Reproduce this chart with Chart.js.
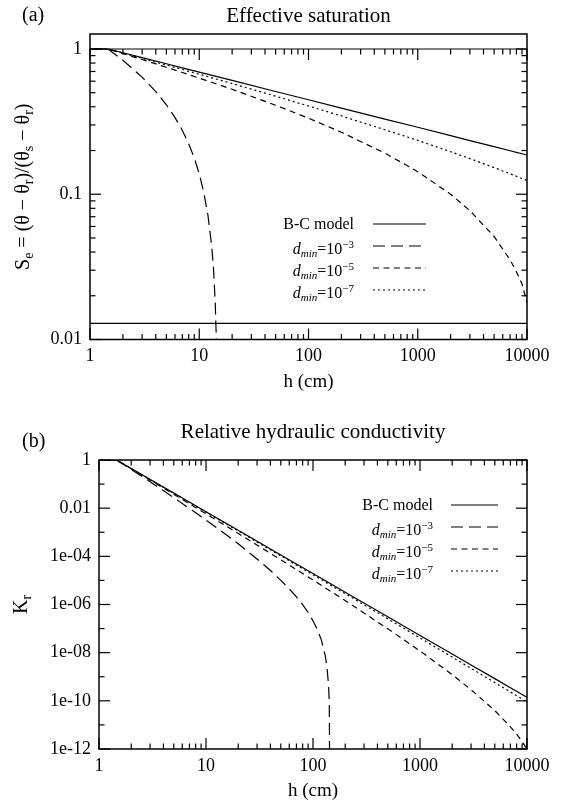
<!DOCTYPE html>
<html>
<head>
<meta charset="utf-8">
<script src="https://cdn.jsdelivr.net/npm/chart.js@4/dist/chart.umd.min.js"></script>
<style>
  html, body { margin: 0; background: #fff; }
  #wrap { position: relative; width: 565px; height: 807px; }
  canvas { position: absolute; left: 0; top: 0; }
</style>
</head>
<body>
<div id="wrap">
  <canvas id="se" width="565" height="807"></canvas>
  <canvas id="kr" width="565" height="807"></canvas>
</div>
<script>
// (a) effective saturation
const hTop = [1, 1.46, 2, 3, 5, 7, 10, 20, 50, 100, 200, 500, 1000, 2000, 3000, 5000, 7000, 8000, 9000, 10000];
const seBC = [1, 1, 0.942, 0.872, 0.791, 0.742, 0.693, 0.608, 0.510, 0.447, 0.392, 0.329, 0.289, 0.253, 0.234, 0.2125, 0.1993, 0.1943, 0.190, 0.1862];
const seD5 = [1, 1, 0.930, 0.846, 0.748, 0.689, 0.630, 0.528, 0.410, 0.334, 0.267, 0.192, 0.143, 0.100, 0.0771, 0.0512, 0.0353, 0.0293, 0.0241, 0.0180];
const seD7 = [1, 1, 0.938, 0.862, 0.775, 0.722, 0.670, 0.578, 0.473, 0.405, 0.346, 0.278, 0.235, 0.196, 0.176, 0.1525, 0.1383, 0.1329, 0.1283, 0.1242];
const hSeD3 = [1, 1.46, 2, 3, 4, 5, 6, 7, 8, 9, 10, 11, 12, 13, 13.5, 14, 14.3, 14.5, 14.7];
const seD3 = [1, 1, 0.837, 0.640, 0.509, 0.413, 0.337, 0.275, 0.223, 0.178, 0.138, 0.103, 0.072, 0.044, 0.031, 0.018, 0.0107, 0.0056, 0.001];

// (b) relative hydraulic conductivity
const hKr = [1, 1.46, 2, 5, 10, 20, 50, 100, 200, 500, 1000, 2000, 3000, 5000, 7000, 8000, 9000, 10000];
const krBC = [1, 1, 0.445, 0.0423, 7.13e-3, 1.20e-3, 1.14e-4, 1.93e-5, 3.25e-6, 3.09e-7, 5.21e-8, 8.79e-9, 3.10e-9, 8.36e-10, 3.52e-10, 2.50e-10, 1.85e-10, 1.41e-10];
const krD5 = [1, 1, 0.433, 0.0376, 5.83e-3, 8.91e-4, 7.19e-5, 1.04e-5, 1.45e-6, 9.82e-8, 1.18e-8, 1.22e-9, 2.90e-10, 3.94e-11, 8.36e-12, 4.10e-12, 2.03e-12, 9.9e-13];
const krD7 = [1, 1, 0.442, 0.0412, 6.84e-3, 1.13e-3, 1.04e-4, 1.71e-5, 2.80e-6, 2.54e-7, 4.09e-8, 6.55e-9, 2.23e-9, 5.74e-10, 2.34e-10, 1.63e-10, 1.19e-10, 8.97e-11];
const hKrD3 = [1, 1.46, 2, 3, 5, 7, 10, 15, 20, 30, 40, 50, 60, 70, 80, 90, 100, 110, 120, 130, 135, 140, 142, 143.5];
const krD3 = [1, 1, 0.405, 0.125, 0.0273, 9.82e-3, 3.22e-3, 8.71e-4, 3.31e-4, 7.80e-5, 2.57e-5, 1.01e-5, 4.47e-6, 2.06e-6, 9.80e-7, 4.65e-7, 2.12e-7, 8.97e-8, 3.24e-8, 7.80e-9, 2.59e-9, 4.08e-10, 7.1e-11, 1e-14];

const xTicks = [1, 10, 100, 1000, 10000];
const xTickLabels = ['1', '10', '100', '1000', '10000'];
const seTicks = [0.01, 0.1, 1];
const seTickLabels = ['0.01', '0.1', '1'];
const seGuides = [1, 0.0129];
const krTicks = [1, 1e-2, 1e-4, 1e-6, 1e-8, 1e-10, 1e-12];
const krTickLabels = ['1', '0.01', '1e-04', '1e-06', '1e-08', '1e-10', '1e-12'];
const krMinor = [1e-1, 1e-3, 1e-5, 1e-7, 1e-9, 1e-11];
const seriesNames = ['B-C model', 'd_min=10^-3', 'd_min=10^-5', 'd_min=10^-7'];
const dminExps = [null, '3', '5', '7'];

const dashes = [[], [12, 6], [6, 4.5], [2, 3]];
const SERIF = '"Liberation Serif", "Times New Roman", serif';
const fnt = (px, it) => `${it ? 'italic ' : ''}${px}px ${SERIF}`;

const pts = (hs, vs) => hs.map((h, i) => ({ x: h, y: vs[i] }));
const minorsOf = (decades) => decades.flatMap((d) => [2, 3, 4, 5, 6, 7, 8, 9].map((k) => k * d));

function drawRuns(ctx, parts, x, y, align) {
  let w = 0;
  parts.forEach((p) => { ctx.font = p.f; w += ctx.measureText(p.t).width; });
  let cx = align === 'right' ? x - w : align === 'center' ? x - w / 2 : x;
  ctx.textAlign = 'left';
  ctx.textBaseline = 'alphabetic';
  parts.forEach((p) => {
    ctx.font = p.f;
    ctx.fillText(p.t, cx, y + (p.dy || 0));
    cx += ctx.measureText(p.t).width;
  });
}

function legendParts(i) {
  if (!dminExps[i]) return [{ t: seriesNames[i], f: fnt(16) }];
  return [
    { t: 'd', f: fnt(16, true) },
    { t: 'min', f: fnt(11, true), dy: 3 },
    { t: '=10', f: fnt(16) },
    { t: '\u2212' + dminExps[i], f: fnt(11), dy: -6 },
  ];
}

function line(ctx, x0, y0, x1, y1) {
  ctx.beginPath();
  ctx.moveTo(x0, y0);
  ctx.lineTo(x1, y1);
  ctx.stroke();
}

const gnu = {
  id: 'gnu',
  afterDatasetsDraw(chart, _args, o) {
    const { ctx, chartArea: a } = chart;
    const X = (v) => chart.scales.x.getPixelForValue(v);
    const Y = (v) => chart.scales.y.getPixelForValue(v);
    const mirror = Y(o.xMirrorAt);
    ctx.save();
    ctx.strokeStyle = '#000';
    ctx.fillStyle = '#000';
    ctx.setLineDash([]);
    ctx.lineWidth = 1.5;
    ctx.strokeRect(a.left, a.top, a.right - a.left, a.bottom - a.top);
    ctx.lineWidth = 1.2;
    o.guides.forEach((v) => line(ctx, a.left, Y(v), a.right, Y(v)));

    // ticks (inside)
    const big = 11, small = 5.5;
    minorsOf([1, 10, 100, 1000]).forEach((v) => {
      line(ctx, X(v), a.bottom, X(v), a.bottom - small);
      line(ctx, X(v), mirror, X(v), mirror + small);
    });
    xTicks.forEach((v) => {
      line(ctx, X(v), a.bottom, X(v), a.bottom - big);
      line(ctx, X(v), mirror, X(v), mirror + big);
    });
    o.yMinor.forEach((v) => {
      line(ctx, a.left, Y(v), a.left + small, Y(v));
      line(ctx, a.right, Y(v), a.right - small, Y(v));
    });
    o.yMajor.forEach((v) => {
      line(ctx, a.left, Y(v), a.left + big, Y(v));
      line(ctx, a.right, Y(v), a.right - big, Y(v));
    });

    // tick labels
    ctx.font = fnt(18);
    ctx.textBaseline = 'middle';
    ctx.textAlign = 'center';
    xTicks.forEach((v, i) => ctx.fillText(xTickLabels[i], X(v), a.bottom + 17));
    ctx.textAlign = 'right';
    o.yMajor.forEach((v, i) => ctx.fillText(o.yLabels[i], a.left - 8, Y(v)));

    // titles
    const cx = (a.left + a.right) / 2;
    drawRuns(ctx, [{ t: o.title, f: fnt(21) }], cx, o.titleY, 'center');
    drawRuns(ctx, [{ t: o.panel, f: fnt(20) }], 22, o.panelY, 'left');
    drawRuns(ctx, [{ t: 'h (cm)', f: fnt(19) }], cx, a.bottom + 47, 'center');
    ctx.save();
    ctx.translate(o.yTitleX, (a.top + a.bottom) / 2);
    ctx.rotate(-Math.PI / 2);
    drawRuns(ctx, o.yTitle, 0, 6, 'center');
    ctx.restore();

    // legend
    const L = o.legend;
    chart.data.datasets.forEach((ds, i) => {
      const ry = L.y0 + i * L.dy;
      drawRuns(ctx, legendParts(i), L.textRight, ry + (dminExps[i] ? 8 : 5), 'right');
      ctx.lineWidth = 1.2;
      ctx.setLineDash(ds.borderDash);
      line(ctx, L.x0, ry, L.x1, ry);
      ctx.setLineDash([]);
    });
    ctx.restore();
  },
};

function series(pairs) {
  return pairs.map(([hs, vs], i) => ({
    label: seriesNames[i],
    data: pts(hs, vs),
    borderColor: '#000',
    borderWidth: 1.2,
    borderDash: dashes[i],
    pointRadius: 0,
    fill: false,
    tension: 0,
  }));
}

function makeChart(id, datasets, yMin, yMax, padding, gnuOpts) {
  return new Chart(document.getElementById(id), {
    type: 'line',
    data: { datasets },
    options: {
      responsive: false,
      animation: false,
      events: [],
      layout: { padding },
      scales: {
        x: { type: 'logarithmic', min: 1, max: 10000, display: false },
        y: { type: 'logarithmic', min: yMin, max: yMax, display: false },
      },
      plugins: { legend: { display: false }, tooltip: { enabled: false }, gnu: gnuOpts },
    },
    plugins: [gnu],
  });
}

const sub = (t) => ({ t, f: fnt(14), dy: 4 });
const main = (t) => ({ t, f: fnt(20) });

makeChart('se',
  series([[hTop, seBC], [hSeD3, seD3], [hTop, seD5], [hTop, seD7]]),
  0.01, 1.268,
  { left: 90, top: 34, right: 38, bottom: 467.5 },
  {
    xMirrorAt: 1,
    guides: seGuides,
    yMajor: seTicks,
    yLabels: seTickLabels,
    yMinor: minorsOf([0.01, 0.1]),
    title: 'Effective saturation',
    titleY: 21.5,
    panel: '(a)',
    panelY: 21,
    yTitleX: 23,
    yTitle: [main('S'), sub('e'), main(' = (\u03b8 \u2212 \u03b8'), sub('r'), main(')/(\u03b8'), sub('s'),
      main(' \u2212 \u03b8'), sub('r'), main(')')],
    legend: { textRight: 354, x0: 373, x1: 426, y0: 224, dy: 22 },
  });

makeChart('kr',
  series([[hKr, krBC], [hKrD3, krD3], [hKr, krD5], [hKr, krD7]]),
  1e-12, 1,
  { left: 99, top: 460, right: 38, bottom: 58 },
  {
    xMirrorAt: 1,
    guides: [],
    yMajor: krTicks,
    yLabels: krTickLabels,
    yMinor: krMinor,
    title: 'Relative hydraulic conductivity',
    titleY: 438,
    panel: '(b)',
    panelY: 447,
    yTitleX: 21,
    yTitle: [main('K'), sub('r')],
    legend: { textRight: 433, x0: 451, x1: 498, y0: 505, dy: 22 },
  });
</script>
</body>
</html>
